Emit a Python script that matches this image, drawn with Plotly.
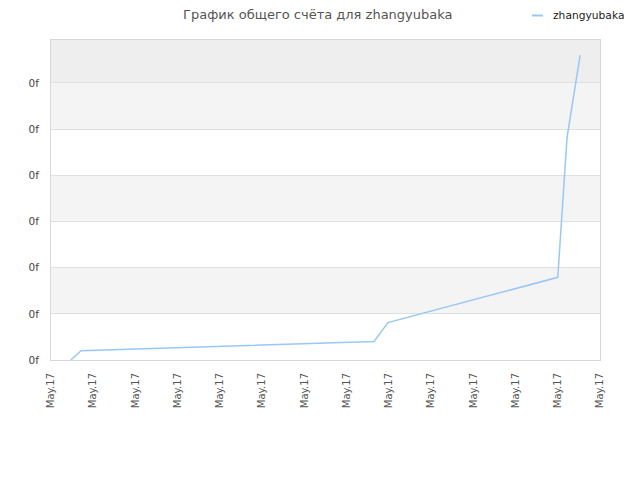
import plotly.graph_objects as go

# Data (x in tick-interval units, y in score units)
x_vals = [0.47, 0.71, 7.65, 7.98, 12.0, 12.22, 12.53]
y_vals = [0, 2, 4, 8.1, 17.9, 48.2, 66.0]
series_name = "zhangyubaka"
x_tick_vals = list(range(14))
x_tick_text = ["May.17"] * 14
y_tick_vals = [0, 10, 20, 30, 40, 50, 60]
y_tick_text = ["0f"] * 7
title_text = "График общего счёта для zhangyubaka"

Y_MAX = 69.3
X_MAX = 13
LINE_COLOR = "#99c8f4"

# page body adds an 8px offset; compensate so the plot lands at x 51..600, y 40..360
OFF = 8
W, H = 640 - OFF, 480 - OFF

fig = go.Figure()
fig.add_trace(go.Scatter(
    x=x_vals, y=y_vals, mode="lines", name=series_name,
    line=dict(color=LINE_COLOR, width=1.5), showlegend=False,
))

bands = [(10, 20, "#f4f4f4"), (30, 40, "#f4f4f4"), (50, 60, "#f4f4f4"), (60, Y_MAX, "#eeeeee")]
shapes = []
for y0, y1, c in bands:
    shapes.append(dict(type="rect", xref="paper", yref="y", x0=0, x1=1, y0=y0, y1=y1,
                       fillcolor=c, line=dict(width=0), layer="below"))

pw, ph = 549.0, 320.0
def px_x(px):
    return (px - 51) / pw
def px_y(py):
    return (360 - py) / ph
shapes.append(dict(type="line", xref="paper", yref="paper",
                   x0=px_x(532), x1=px_x(543), y0=px_y(15.5), y1=px_y(15.5),
                   line=dict(color=LINE_COLOR, width=2)))

fig.update_layout(
    width=W, height=H,
    margin=dict(l=51 - OFF, r=W - (51 - OFF) - 549, t=40 - OFF, b=H - (40 - OFF) - 320, autoexpand=False),
    paper_bgcolor="white", plot_bgcolor="white",
    font=dict(family="DejaVu Sans", size=10, color="#444"),
    showlegend=False,
    shapes=shapes,
    annotations=[
        dict(text=title_text, xref="paper", yref="paper", x=px_x(318), y=px_y(14.5),
             xanchor="center", yanchor="middle", showarrow=False,
             font=dict(family="DejaVu Sans", size=13, color="#555")),
        dict(text=series_name, xref="paper", yref="paper", x=px_x(551), y=px_y(15),
             xanchor="left", yanchor="middle", showarrow=False,
             font=dict(family="DejaVu Sans", size=10.7, color="#222")),
    ],
    xaxis=dict(range=[0, X_MAX], tickvals=x_tick_vals, ticktext=x_tick_text, tickangle=-90,
               showgrid=False, zeroline=False, showline=True, mirror=True, linecolor="#d8d8d8",
               ticks="", ticklabelstandoff=8, tickfont=dict(size=10, color="#555")),
    yaxis=dict(range=[0, Y_MAX], tickvals=y_tick_vals, ticktext=y_tick_text,
               showgrid=True, gridcolor="#e0e0e0", zeroline=False, showline=True, mirror=True,
               linecolor="#d8d8d8", ticks="", ticklabelstandoff=9, tickfont=dict(size=10.5, color="#444")),
)

fig.write_html("out.html")
